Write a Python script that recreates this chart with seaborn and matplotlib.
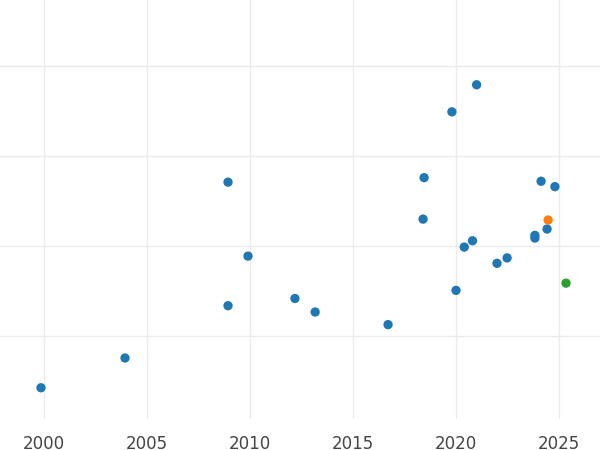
import seaborn as sns
import matplotlib.pyplot as plt
import pandas as pd

years = [1999.85, 2003.93, 2008.93, 2009.9, 2008.93, 2012.18, 2013.16, 2016.7,
         2018.45, 2018.4, 2019.8, 2021.0, 2020.0, 2020.4, 2020.8, 2021.99,
         2022.48, 2023.83, 2023.83, 2024.42, 2024.13, 2024.8, 2024.47, 2025.34]
scores = [0.43, 0.76, 2.71, 1.89, 1.34, 1.42, 1.27, 1.13,
          2.76, 2.30, 3.49, 3.79, 1.51, 1.99, 2.06, 1.81,
          1.87, 2.12, 2.09, 2.19, 2.72, 2.66, 2.29, 1.59]
groups = ["a"] * 22 + ["b", "c"]

df = pd.DataFrame({"year": years, "score": scores, "group": groups})

sns.set_theme(style="whitegrid", rc={"grid.color": "#ebebeb"})
fig = plt.figure(figsize=(6, 4.5), dpi=100)
ax = fig.add_axes([0, 0.07, 1, 0.93])
sns.scatterplot(data=df, x="year", y="score", hue="group",
                palette=["#1f77b4", "#ff7f0e", "#2ca02c"],
                s=45, edgecolor="none", legend=False, ax=ax)
ax.set_xlim(1997.86, 2026.99)
ax.set_ylim(0.089, 4.73)
ax.set_xticks([2000, 2005, 2010, 2015, 2020, 2025])
ax.set_yticks([1, 2, 3, 4])
ax.set_yticklabels([])
ax.tick_params(axis="x", labelsize=12, colors="#444444", pad=6)
ax.set_xlabel("")
ax.set_ylabel("")
for s in ax.spines.values():
    s.set_visible(False)
fig.savefig("out.png", dpi=100)
